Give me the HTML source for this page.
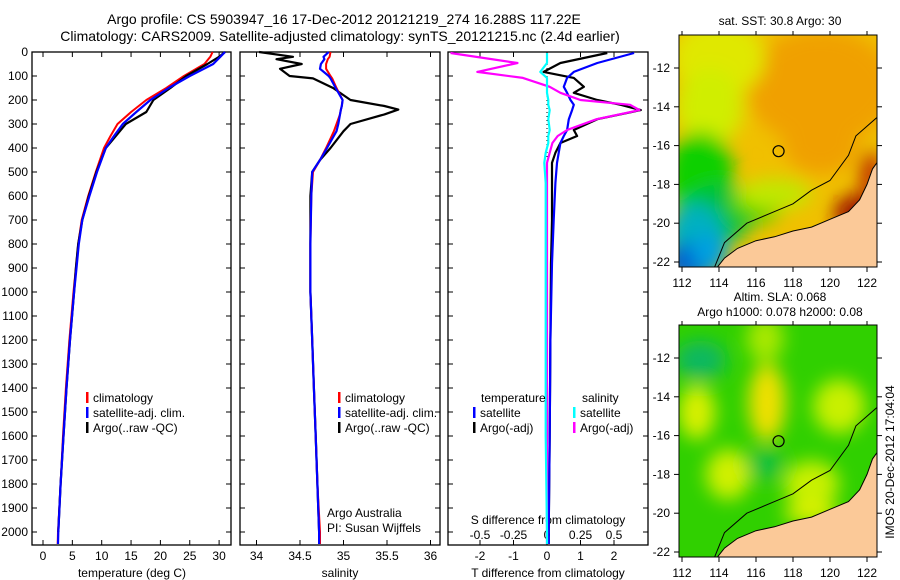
<!DOCTYPE html>
<html><head><meta charset="utf-8"><style>
html,body{margin:0;padding:0;background:#fff;}
svg{display:block;font-family:"Liberation Sans",sans-serif;}
</style></head><body>
<svg id="c" width="900" height="580" viewBox="0 0 900 580" xmlns="http://www.w3.org/2000/svg">
<defs>
<filter id="bl" x="-50%" y="-50%" width="200%" height="200%"><feGaussianBlur stdDeviation="9"/></filter>
<clipPath id="cm1"><rect x="679" y="35" width="198" height="232"/></clipPath>
<clipPath id="cm2"><rect x="679" y="325" width="198" height="232"/></clipPath>
</defs>
<g font-size="14" text-anchor="middle" fill="#000">
<text x="344" y="24">Argo profile: CS 5903947_16 17-Dec-2012 20121219_274 16.288S 117.22E</text>
<text x="340" y="41">Climatology: CARS2009. Satellite-adjusted climatology: synTS_20121215.nc (2.4d earlier)</text>
<text x="780" y="25" font-size="12">sat. SST: 30.8 Argo: 30</text>
<text x="780" y="301" font-size="12">Altim. SLA: 0.068</text>
<text x="780" y="316" font-size="12">Argo h1000: 0.078 h2000: 0.08</text>
</g>
<text transform="translate(894,462) rotate(-90)" font-size="12" text-anchor="middle">IMOS 20-Dec-2012 17:04:04</text>
<g id="g"></g>
</svg>
<script>
// ---- data ----
const depthTicks=[0,100,200,300,400,500,600,700,800,900,1000,1100,1200,1300,1400,1500,1600,1700,1800,1900,2000];
const tempTicks=[0,5,10,15,20,25,30];
const salTicks=[34,34.5,35,35.5,36];
const tdiffTicks=[-2,-1,0,1,2];
const sdiffTicks=[-0.5,-0.25,0,0.25,0.5];
const sdiffLabels=["-0.5","-0.25","0","0.25","0.5"];

const tDepth=[0,20,50,100,150,200,250,300,350,400,500,600,700,800,900,1000,1200,1400,1600,1800,2000,2050];
const tClim=[28.9,28.5,27.5,24.0,21.0,17.6,15.0,12.7,11.5,10.4,9.0,7.7,6.6,6.0,5.6,5.2,4.5,3.9,3.4,3.0,2.55,2.5];
const tSat=[31.0,30.2,29.0,25.0,21.4,18.3,15.9,13.6,12.1,10.7,9.2,7.9,6.7,6.1,5.7,5.3,4.6,4.0,3.5,3.0,2.6,2.55];
const tArgo=[31.0,30.0,28.0,24.4,21.7,18.8,17.6,14.1,12.4,10.7,9.1,7.8,6.7,6.0,5.6,5.3,4.6,4.0,3.5,3.0,2.6];

const sDepth=[0,20,30,50,70,100,110,150,200,225,240,260,300,330,400,450,500,600,800,1000,1200,1400,1600,1800,2000,2050];
const sArgo=[34.03,34.42,34.23,34.52,34.27,34.38,34.65,34.88,35.08,35.47,35.63,35.47,35.08,35.0,34.85,34.73,34.64,34.62,34.62,34.62,34.64,34.66,34.68,34.70,34.72];
const sSat=[34.83,34.77,34.78,34.74,34.73,34.83,34.85,34.91,34.99,34.98,34.97,34.96,34.94,34.92,34.81,34.73,34.64,34.63,34.62,34.62,34.64,34.66,34.68,34.70,34.72,34.72];
const sClim=[34.85,34.84,34.82,34.8,34.8,34.85,34.87,34.92,34.99,34.98,34.97,34.96,34.92,34.89,34.8,34.73,34.65,34.63,34.62,34.62,34.64,34.66,34.68,34.70,34.73,34.73];

const dDepth=[4,46,83,108,145,170,200,220,242,280,325,350,379,420,462,546,700,880,1200,1600,2000,2050];
const dTArgo=[1.8,0.4,-0.1,0.8,1.1,0.8,1.5,2.2,2.8,1.5,0.8,0.9,0.4,0.25,0.15,0.15,0.15,0.12,0.1,0.08,0.05,0.05];
const dTSat=[2.6,1.5,0.8,0.6,0.5,0.6,0.7,0.8,0.75,0.65,0.6,0.5,0.4,0.35,0.3,0.25,0.2,0.15,0.1,0.08,0.05,0.05];
const dSArgo=[-0.72,-0.22,-0.52,-0.18,0.02,0.1,0.25,0.62,0.69,0.37,0.15,0.08,0.04,0.02,0.0,0.0,0.0,0.0,0.0,0.0,0.0,0.0];
const dSSat=[0.0,0.0,-0.05,0.0,0.0,0.0,0.01,0.01,0.02,0.01,0.02,0.01,0.01,-0.01,-0.02,-0.01,-0.01,-0.01,-0.01,-0.01,0.0,0.0];

const lonTicks=[112,114,116,118,120,122];
const latTicks1=[-12,-14,-16,-18,-20,-22];
const latTicks2=[-12,-14,-16,-18,-20,-22];
const argoLon=117.22, argoLat=-16.288;
const coastLon=[113.8,114.3,115,116,117,118,119,120,121,121.6,122,122.3,122.6];
const coastLat=[-22.4,-21.8,-21.3,-20.9,-20.7,-20.4,-20.2,-19.8,-19.4,-18.8,-18.0,-17.2,-16.8];
const shelfLon=[113.7,114.3,115.5,117,118,119,120,121,121.4,122.6];
const shelfLat=[-22.4,-21,-20,-19.4,-19,-18.3,-17.8,-16.5,-15.5,-14.5];

// ---- helpers ----
const NS="http://www.w3.org/2000/svg";
const G=document.getElementById('g');
function mk(t,a,p){const e=document.createElementNS(NS,t);for(const k in a)e.setAttribute(k,a[k]);(p||G).appendChild(e);return e;}
const Y=d=>52+d*0.24;
const P1={x0:32,x1:231}, P2={x0:240,x1:440}, P3={x0:448,x1:648};
const TX=t=>43+t*5.87;
const SX=s=>300+(s-34.5)*87;
const DX=t=>547+t*33.5;
const DSX=s=>547+s*134;
const yTop=52,yBot=545;

function frame(P,name){
  const r=mk('rect',{x:P.x0,y:yTop,width:P.x1-P.x0,height:yBot-yTop,fill:'none',stroke:'#000','stroke-width':1.3});
  
  
}
function line(xs,ds,fx,col,w,name){
  let d='';const n=Math.min(xs.length,ds.length);
  for(let i=0;i<n;i++)d+=(i?'L':'M')+fx(xs[i]).toFixed(1)+' '+Y(ds[i]).toFixed(1);
  const p=mk('path',{d:d,fill:'none',stroke:col,'stroke-width':w,'stroke-linejoin':'round'});
  
  
}
function txt(x,y,s,o,name){const t=mk('text',Object.assign({x:x,y:y,'font-size':12},o||{}));t.textContent=s;
  
  
  return t;}

frame(P1,'temperature-panel');frame(P2,'salinity-panel');frame(P3,'difference-panel');
depthTicks.forEach(d=>{
  const y=Y(d);
  [P1,P2,P3].forEach(P=>{mk('line',{x1:P.x0,x2:P.x0+5,y1:y,y2:y,stroke:'#000'});mk('line',{x1:P.x1-5,x2:P.x1,y1:y,y2:y,stroke:'#000'});});
  txt(28,y+4,String(d),{'text-anchor':'end'},'depth-tick-label');
});
tempTicks.forEach(t=>{const x=TX(t);mk('line',{x1:x,x2:x,y1:yBot,y2:yBot-5,stroke:'#000'});mk('line',{x1:x,x2:x,y1:yTop,y2:yTop+5,stroke:'#000'});txt(x,560,String(t),{'text-anchor':'middle'},'temp-tick-label');});
salTicks.forEach(s=>{const x=SX(s);mk('line',{x1:x,x2:x,y1:yBot,y2:yBot-5,stroke:'#000'});mk('line',{x1:x,x2:x,y1:yTop,y2:yTop+5,stroke:'#000'});txt(x,560,String(s),{'text-anchor':'middle'},'sal-tick-label');});
tdiffTicks.forEach(t=>{const x=DX(t);mk('line',{x1:x,x2:x,y1:yBot,y2:yBot-5,stroke:'#000'});mk('line',{x1:x,x2:x,y1:yTop,y2:yTop+5,stroke:'#000'});txt(x,560,String(t),{'text-anchor':'middle'},'tdiff-tick-label');});
sdiffTicks.forEach((s,i)=>{txt(DSX(s),539,sdiffLabels[i],{'text-anchor':'middle'},'sdiff-tick-label');});
txt(132,577,'temperature (deg C)',{'text-anchor':'middle'},'x-axis-title-temperature');
txt(340,577,'salinity',{'text-anchor':'middle'},'x-axis-title-salinity');
txt(548,577,'T difference from climatology',{'text-anchor':'middle'},'x-axis-title-tdiff');
txt(548,524,'S difference from climatology',{'text-anchor':'middle'},'x-axis-title-sdiff');
mk('line',{x1:DX(0),x2:DX(0),y1:yTop,y2:yBot,stroke:'#000','stroke-dasharray':'1 3'});

line(tClim,tDepth,TX,'#f00',2,'temp-climatology-line');
line(tArgo,tDepth,TX,'#000',2.2,'temp-argo-line');
line(tSat,tDepth,TX,'#00f',2.2,'temp-satellite-line');
line(sArgo,sDepth,SX,'#000',2.2,'sal-argo-line');
line(sClim,sDepth,SX,'#f00',2,'sal-climatology-line');
line(sSat,sDepth,SX,'#00f',2.2,'sal-satellite-line');
line(dTArgo,dDepth,DX,'#000',2.2,'tdiff-argo-line');
line(dTSat,dDepth,DX,'#00f',2.2,'tdiff-satellite-line');
line(dSArgo,dDepth,DSX,'#f0f',2.2,'sdiff-argo-line');
line(dSSat,dDepth,DSX,'#0ff',2.2,'sdiff-satellite-line');

function leg(x,y,col,s,name){mk('rect',{x:x,y:y-10,width:2.5,height:11,fill:col});txt(x+7,y,s,{},name);}
[[86,'1'],[338,'2']].forEach(([x,k])=>{
  leg(x,402,'#f00','climatology','legend-climatology-'+k);
  leg(x,417,'#00f','satellite-adj. clim.','legend-satellite-'+k);
  leg(x,432,'#000','Argo(..raw -QC)','legend-argo-'+k);
});
txt(481,402,'temperature',{},'legend-temperature-header');
leg(473,417,'#00f','satellite','legend-tdiff-satellite');
leg(473,432,'#000','Argo(-adj)','legend-tdiff-argo');
txt(582,402,'salinity',{},'legend-salinity-header');
leg(573,417,'#0ff','satellite','legend-sdiff-satellite');
leg(573,432,'#f0f','Argo(-adj)','legend-sdiff-argo');
txt(327,517,'Argo Australia',{},'credit-argo-australia');
txt(327,532,'PI: Susan Wijffels',{},'credit-pi');

function map(top,latTicks,lat0y,clipId,blobs,name){
  const LX=l=>682+(l-112)*18.5;
  const LY=l=>lat0y+(-12-l)*19.4;
  const g=mk('g',{'clip-path':'url(#'+clipId+')'});
  
  
  mk('rect',{x:679,y:top,width:198,height:232,fill:blobs[0]},g);
  const gb=mk('g',{filter:'url(#bl)'},g);
  blobs.slice(1).forEach(b=>mk('ellipse',{cx:LX(b[0]),cy:LY(b[1]),rx:b[2]*18.5,ry:b[3]*19.4,fill:b[4]},gb));
  let d='M'+LX(coastLon[0])+' '+LY(coastLat[0]);
  for(let i=1;i<coastLon.length;i++)d+='L'+LX(coastLon[i]).toFixed(1)+' '+LY(coastLat[i]).toFixed(1);
  d+='L'+(LX(123))+' '+LY(-16.8)+'L'+LX(123)+' '+LY(-23)+'L'+LX(113.8)+' '+LY(-23)+'Z';
  mk('path',{d:d,fill:'#fbc998',stroke:'#000','stroke-width':1},g);
  let s='';shelfLon.forEach((l,i)=>s+=(i?'L':'M')+LX(l).toFixed(1)+' '+LY(shelfLat[i]).toFixed(1));
  mk('path',{d:s,fill:'none',stroke:'#000','stroke-width':1},g);
  const c=mk('circle',{cx:LX(argoLon),cy:LY(argoLat),r:5.5,fill:'none',stroke:'#000','stroke-width':1.2});
  
  
  mk('rect',{x:679,y:top,width:198,height:232,fill:'none',stroke:'#000'});
  lonTicks.forEach(l=>{const x=LX(l);mk('line',{x1:x,x2:x,y1:top+232,y2:top+237,stroke:'#000'});mk('line',{x1:x,x2:x,y1:top,y2:top-4,stroke:'#000'});txt(x,top+252,String(l),{'text-anchor':'middle'},'lon-tick-label');});
  latTicks.forEach(l=>{const y=LY(l);if(y<top||y>top+232)return;mk('line',{x1:679,x2:674,y1:y,y2:y,stroke:'#000'});mk('line',{x1:877,x2:882,y1:y,y2:y,stroke:'#000'});txt(670,y+4,String(l),{'text-anchor':'end'},'lat-tick-label');});
}
map(35,latTicks1,68,'cm1',['#f0c000',
 [119.5,-13,4,3,'#f0a000'],[119.5,-16,2,1.5,'#f0a000'],[114,-11.5,2.5,2,'#e0e800'],[113.5,-14,1.8,2,'#d0ee00'],
 [113,-17.5,1.8,2.2,'#10d000'],[114,-19.5,2,1.5,'#00c040'],[112.7,-20.5,1.5,1.5,'#00b0c0'],[112.5,-22,1.5,1,'#0060d0'],[113.5,-21.5,1,1,'#00a0e0'],
 [116,-19,1.5,1,'#40d000'],[117,-18.5,2,0.8,'#c0e800'],[121.5,-19.5,1.3,1,'#a01800'],[122.2,-17.5,0.6,1.2,'#c03000']],'sst-map');
map(325,latTicks2,358,'cm2',['#30d000',
 [116.6,-14.3,1,2,'#f0e000'],[112.8,-14.8,1,1.4,'#d8f000'],[120.5,-14.5,1.4,1.4,'#c8f000'],[113,-12.1,1.4,1,'#10b860'],
 [114.5,-18,1.2,1.3,'#d0f000'],[119,-18.5,1.5,1.2,'#c8f000'],[119,-20,1.5,0.6,'#d8f000'],[116.5,-17.5,1,0.8,'#10c040'],[116.5,-11,1,1.2,'#a8e800']],'sla-map');
</script>
</body></html>
